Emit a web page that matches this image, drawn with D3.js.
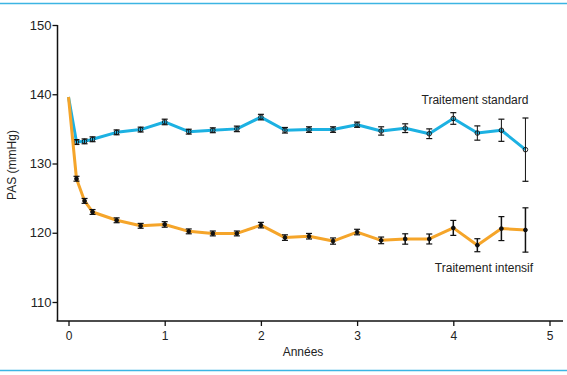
<!DOCTYPE html>
<html>
<head>
<meta charset="utf-8">
<script src="https://cdn.jsdelivr.net/npm/d3@7"></script>
<style>
  body { margin: 0; background: #fff; }
  text { font-family: "Liberation Sans", Arial, sans-serif; fill: #222; }
</style>
</head>
<body>
<div class="chart"></div>
<script>
// time points (years)
var years = [0, 0.083, 0.167, 0.25, 0.5, 0.75, 1, 1.25, 1.5, 1.75, 2, 2.25, 2.5, 2.75, 3, 3.25, 3.5, 3.75, 4, 4.25, 4.5, 4.75];

// standard treatment: mean and half error
var standardMean = [139.6, 133.1, 133.2, 133.5, 134.5, 134.9, 136.0, 134.6, 134.8, 135.0, 136.7, 134.8, 134.9, 134.9, 135.6, 134.7, 135.1, 134.3, 136.5, 134.4, 134.8, 132.0];
var standardErr  = [0, 0.35, 0.35, 0.35, 0.35, 0.35, 0.4, 0.35, 0.35, 0.4, 0.4, 0.4, 0.4, 0.4, 0.38, 0.6, 0.63, 0.7, 0.84, 1.03, 1.6, 4.57];

// intensive treatment
var intensiveMean = [139.6, 127.8, 124.6, 123.0, 121.8, 121.0, 121.2, 120.2, 119.9, 119.9, 121.1, 119.3, 119.5, 118.8, 120.1, 118.9, 119.1, 119.1, 120.7, 118.2, 120.6, 120.4];
var intensiveErr  = [0, 0.35, 0.35, 0.35, 0.35, 0.35, 0.4, 0.35, 0.35, 0.35, 0.4, 0.4, 0.4, 0.45, 0.4, 0.48, 0.75, 0.72, 1.08, 0.94, 1.73, 3.2];

var yTicks = [110, 120, 130, 140, 150];
var xTicks = [0, 1, 2, 3, 4, 5];

var width = 567, height = 375;

var svg = d3.select(".chart").append("svg")
    .attr("width", width)
    .attr("height", height);

//////// frame lines top and bottom
svg.append("line").attr("x1", 0).attr("x2", width).attr("y1", 3.5).attr("y2", 3.5)
    .attr("stroke", "#3cb5e3").attr("stroke-width", 1.5);
svg.append("line").attr("x1", 0).attr("x2", width).attr("y1", 370.5).attr("y2", 370.5)
    .attr("stroke", "#3cb5e3").attr("stroke-width", 1.5);

//////// scales
var x = d3.scaleLinear().domain([0, 5]).range([68.5, 549.5]);
var y = d3.scaleLinear().domain([110, 150]).range([302, 25]);

var axisY = 321;
var axisX = 57.5;

// x axis
var gx = svg.append("g").attr("transform", "translate(0," + axisY + ")")
    .call(d3.axisBottom(x).tickValues(xTicks).tickSize(5).tickSizeOuter(0).tickFormat(d3.format("d")));
gx.select(".domain").remove();
gx.selectAll("line").attr("stroke", "#111").attr("stroke-width", 1.3);
gx.selectAll("text").attr("font-size", 12).attr("dy", "0.95em").style("fill", "#222");
svg.append("line").attr("x1", axisX - 1).attr("x2", 563).attr("y1", axisY).attr("y2", axisY)
    .attr("stroke", "#111").attr("stroke-width", 1.5);

// y axis
var gy = svg.append("g").attr("transform", "translate(" + axisX + ",0)")
    .call(d3.axisLeft(y).tickValues(yTicks).tickSize(5).tickSizeOuter(0));
gy.select(".domain").remove();
gy.selectAll("line").attr("stroke", "#111").attr("stroke-width", 1.3);
gy.selectAll("text").attr("font-size", 13).attr("x", -6).style("fill", "#222");
svg.append("line").attr("x1", axisX).attr("x2", axisX).attr("y1", y(150)).attr("y2", axisY)
    .attr("stroke", "#111").attr("stroke-width", 1.5);

// axis titles
svg.append("text").attr("x", 303).attr("y", 356).attr("text-anchor", "middle")
    .attr("font-size", 12).text("Années");
svg.append("text").attr("transform", "translate(16,165) rotate(-90)").attr("text-anchor", "middle")
    .attr("font-size", 12).text("PAS (mmHg)");

//////// series
function drawSeries(mean, err, color, hollow) {
    var pts = years.map(function(t, i) { return { t: t, v: mean[i], e: err[i] }; });
    var line = d3.line().x(function(d) { return x(d.t); }).y(function(d) { return y(d.v); });

    svg.append("path").datum(pts)
        .attr("d", line)
        .attr("fill", "none")
        .attr("stroke", color)
        .attr("stroke-width", 3)
        .attr("stroke-linejoin", "round");

    var bars = pts.filter(function(d) { return d.e > 0; });
    var g = svg.append("g");
    bars.forEach(function(d) {
        var cx = x(d.t), top = y(d.v + d.e), bot = y(d.v - d.e);
        g.append("line").attr("x1", cx).attr("x2", cx).attr("y1", top).attr("y2", bot)
            .attr("stroke", "#111").attr("stroke-width", hollow ? 1 : 1.5);
        g.append("line").attr("x1", cx - 3).attr("x2", cx + 3).attr("y1", top).attr("y2", top)
            .attr("stroke", "#111").attr("stroke-width", 1.2);
        g.append("line").attr("x1", cx - 3).attr("x2", cx + 3).attr("y1", bot).attr("y2", bot)
            .attr("stroke", "#111").attr("stroke-width", 1.2);
        g.append("circle").attr("cx", cx).attr("cy", y(d.v)).attr("r", hollow ? 2.3 : 1.9)
            .attr("fill", hollow ? "none" : "#111")
            .attr("stroke", "#111").attr("stroke-width", 0.9);
    });
}

drawSeries(standardMean, standardErr, "#1cb1e2", true);
drawSeries(intensiveMean, intensiveErr, "#f5a52a", false);

//////// series labels
svg.append("text").attr("x", 475).attr("y", 104).attr("text-anchor", "middle")
    .attr("font-size", 12).text("Traitement standard");
svg.append("text").attr("x", 484).attr("y", 272).attr("text-anchor", "middle")
    .attr("font-size", 12).text("Traitement intensif");
</script>
</body>
</html>
